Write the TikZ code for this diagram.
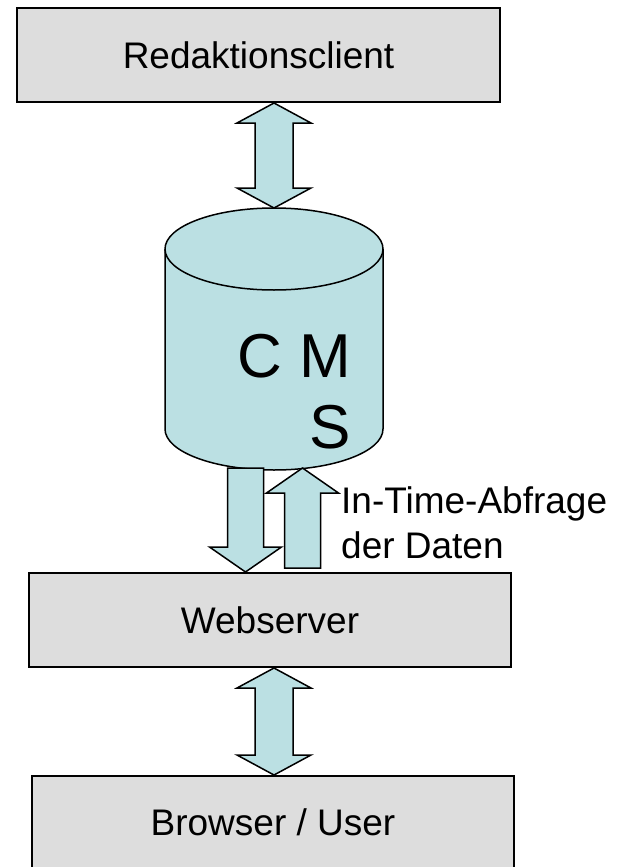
\documentclass[tikz,border=0pt]{standalone}
\usepackage{fontspec}
\setmainfont{Liberation Sans}
\usetikzlibrary{calc}
\definecolor{boxgray}{RGB}{221,221,221}
\definecolor{cmscyan}{RGB}{187,224,227}
\tikzset{
  tier/.style={draw, line width=2pt, fill=boxgray, minimum width=483pt,
    minimum height=94pt, inner sep=0pt, font=\fontsize{37}{44}\selectfont},
  fatarrow/.style={draw, line width=1.5pt, fill=cmscyan, line join=miter},
}
\newcommand\fatdouble[2]{%
  \draw[fatarrow] (#1) -- ($(#1)+(37,20)$) -- ($(#1)+(19,20)$)
    -- ($(#2)+(19,-20)$) -- ($(#2)+(37,-20)$) -- (#2)
    -- ($(#2)+(-37,-20)$) -- ($(#2)+(-19,-20)$)
    -- ($(#1)+(-19,20)$) -- ($(#1)+(-37,20)$) -- cycle;}
\newcommand\fatsingle[3]{%
  \draw[fatarrow] ($(#1)+(-18,0)$) -- ($(#2)+(-18,#3)$) -- ($(#2)+(-36,#3)$)
    -- (#2) -- ($(#2)+(36,#3)$) -- ($(#2)+(18,#3)$) -- ($(#1)+(18,0)$) -- cycle;}
\begin{document}
\begin{tikzpicture}[x=1pt, y=-1pt]
    \useasboundingbox (0,0) rectangle (622,867);

    \node [tier] (redaktion) at (258.5,55) {Redaktionsclient};
    \node [tier, minimum width=482pt] (webserver) at (270,620) {Webserver};
    \node [tier, minimum width=482pt, minimum height=92pt] (browser) at (273,822) {Browser / User};

    \draw [line width=1.5pt, fill=cmscyan] (165,249) -- (165,429)
      arc [start angle=180, end angle=0, x radius=109, y radius=41]
      -- (383,249)
      arc [start angle=0, end angle=-180, x radius=109, y radius=41] -- cycle;
    \draw [line width=1.5pt] (165,249)
      arc [start angle=180, end angle=0, x radius=109, y radius=41];
    \node [align=right, inner sep=0pt, anchor=base east,
      font=\fontsize{62}{71}\selectfont] (cms) at (351,448) {C M\\S};

    \coordinate (cmstop) at (274,208);
    \coordinate (clientout) at (redaktion.south -| cmstop);
    \coordinate (cmsout) at (245.5,468);
    \coordinate (cmsin) at (302.5,468);
    \coordinate (webin) at (webserver.north -| cmsout);
    \coordinate (webout) at (302.5,568);
    \coordinate (webbottom) at (webserver.south -| cmstop);
    \coordinate (browsertop) at (browser.north -| cmstop);

    \fatdouble{clientout}{cmstop}
    \fatsingle{cmsout}{webin}{-25}
    \fatsingle{webout}{cmsin}{25}
    \fatdouble{webbottom}{browsertop}

    \node [align=left, inner sep=0pt, anchor=base west,
      font=\fontsize{37}{45}\selectfont] (abfrage) at (341,558)
      {In-Time-Abfrage\\der Daten};
\end{tikzpicture}
\end{document}
